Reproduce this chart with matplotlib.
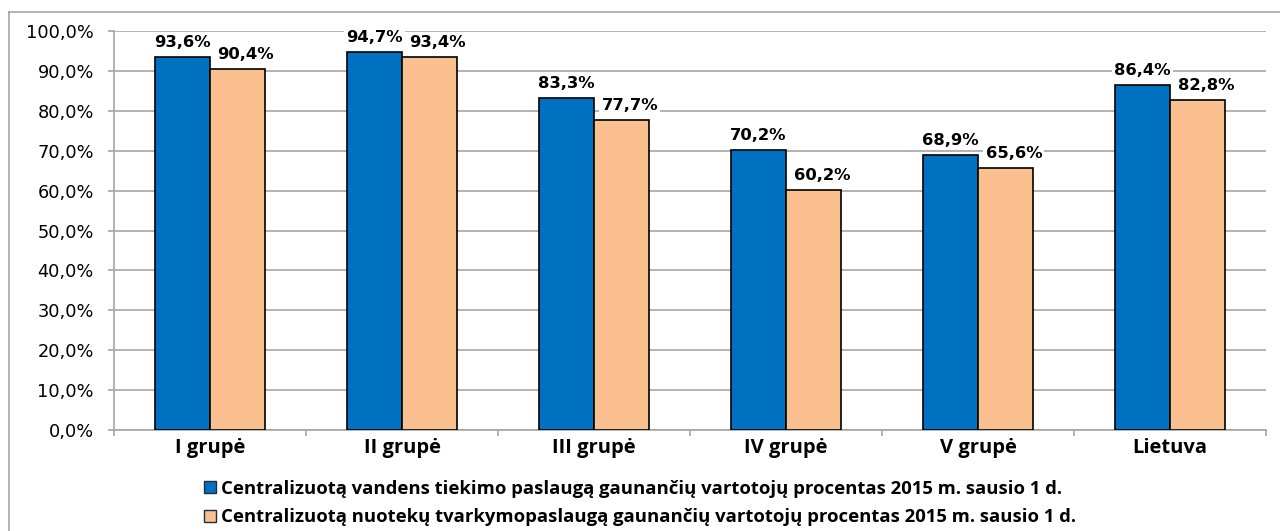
import matplotlib.pyplot as plt
import numpy as np
from matplotlib.lines import Line2D
from matplotlib.patches import Patch

# kategorijos ir reikšmės (%)
categories = ["I grupė", "II grupė", "III grupė", "IV grupė", "V grupė", "Lietuva"]
water = [93.6, 94.7, 83.3, 70.2, 68.9, 86.4]
sewage = [90.4, 93.4, 77.7, 60.2, 65.6, 82.8]
series_labels = [
    "Centralizuotą vandens tiekimo paslaugą gaunančių vartotojų procentas 2015 m. sausio 1 d.",
    "Centralizuotą nuotekų tvarkymopaslaugą gaunančių vartotojų procentas 2015 m. sausio 1 d.",
]
y_ticks = [0, 10, 20, 30, 40, 50, 60, 70, 80, 90, 100]

BLUE = "#0070C0"
PEACH = "#FAC090"
GRID = "#A6A6A6"
CAT_FONT = ["Open Sans", "DejaVu Sans"]

fig = plt.figure(figsize=(12.8, 5.31), dpi=100)
ax = fig.add_axes([114 / 1280, 1 - 430 / 531, 1152 / 1280, (430 - 31) / 531])

x = np.arange(len(categories))
w = 55 / 192
b1 = ax.bar(x - w / 2, water, w, color=BLUE, edgecolor="black", linewidth=1.2, zorder=3)
b2 = ax.bar(x + w / 2, sewage, w, color=PEACH, edgecolor="black", linewidth=1.2, zorder=3)

# etiketės: orandžinės šiek tiek paslinktos į dešinę kaip originale
for bars, vals, dx in ((b1, water, 0), (b2, sewage, 6)):
    for r, v in zip(bars, vals):
        ax.annotate(f"{v:.1f}%".replace(".", ","), (r.get_x() + r.get_width() / 2, v),
                    xytext=(dx, 5), textcoords="offset points", ha="center", va="bottom",
                    fontsize=11.8, fontweight="bold", family="DejaVu Sans", zorder=2.5,
                    bbox=dict(facecolor="white", edgecolor="none", pad=1.5))

ax.set_xlim(-0.5, len(categories) - 0.5)
ax.set_ylim(0, 100)
ax.set_yticks(y_ticks)
ax.set_yticklabels([f"{t:.1f}%".replace(".", ",") for t in y_ticks], fontsize=12.8, family="DejaVu Sans")
ax.yaxis.grid(True, color=GRID, linewidth=1.2, zorder=0)

# kategorijų etiketės tarp ribinių žymų
ax.set_xticks(np.arange(len(categories) + 1) - 0.5)
ax.set_xticklabels([])
ax.set_xticks(x, minor=True)
ax.set_xticklabels(categories, minor=True, fontsize=14.5, fontweight="bold", family=CAT_FONT)
ax.tick_params(axis="x", which="minor", length=0, pad=6)
ax.tick_params(axis="x", which="major", length=4.5, color=GRID, width=1.2)
ax.tick_params(axis="y", length=4.5, color=GRID, width=1.2, pad=10)

for s in ("top", "right"):
    ax.spines[s].set_visible(False)
for s in ("left", "bottom"):
    ax.spines[s].set_color(GRID)
    ax.spines[s].set_linewidth(1.2)

handles = [Patch(facecolor=BLUE, edgecolor="#1F2D3D", linewidth=1.0),
           Patch(facecolor=PEACH, edgecolor="#1F2D3D", linewidth=1.0)]
fig.legend(handles, series_labels, loc="center", bbox_to_anchor=(0.5, 1 - 503 / 531),
           ncol=1, frameon=False, handlelength=0.65, handleheight=0.65, handletextpad=0.3,
           labelspacing=0.57, borderpad=0, prop={"family": CAT_FONT, "weight": "bold", "size": 13.3})

# išorinis rėmelis
fig.add_artist(Line2D([9 / 1280, 1], [1 - 12 / 531] * 2, color=GRID, linewidth=1.2, transform=fig.transFigure))
fig.add_artist(Line2D([9 / 1280] * 2, [0, 1 - 12 / 531], color=GRID, linewidth=1.2, transform=fig.transFigure))

fig.savefig("out.png", dpi=100)
